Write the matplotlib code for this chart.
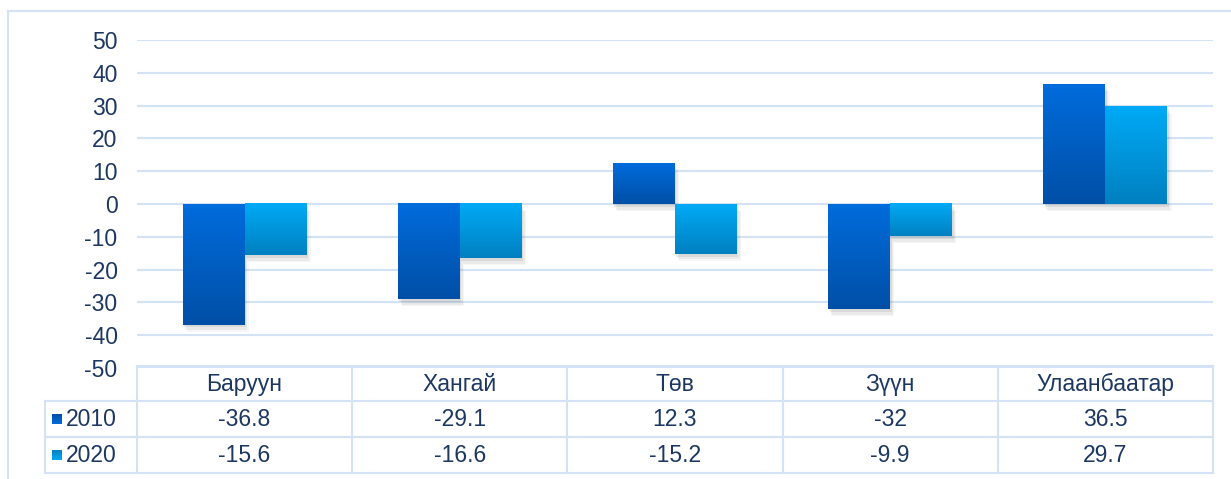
import numpy as np
import matplotlib
matplotlib.use("Agg")
import matplotlib.pyplot as plt
import matplotlib.patheffects as pe
from matplotlib.colors import LinearSegmentedColormap

regions = ["Баруун", "Хангай", "Төв", "Зүүн", "Улаанбаатар"]
years = ["2010", "2020"]
values_2010 = [-36.8, -29.1, 12.3, -32, 36.5]
values_2020 = [-15.6, -16.6, -15.2, -9.9, 29.7]
y_ticks = [-50, -40, -30, -20, -10, 0, 10, 20, 30, 40, 50]

plt.rcParams['font.family'] = ['Liberation Sans', 'DejaVu Sans']
plt.rcParams['axes.unicode_minus'] = False
text_color = "#1C3762"
grid_color = "#D3E2F4"
fs = 16.5

# gradient ends (bottom, top) for each series
grads = {
    "2010": ("#004FA6", "#006CDC"),
    "2020": ("#0080C0", "#00AAF6"),
}

W, H = 1231, 479
fig = plt.figure(figsize=(W / 100, H / 100), dpi=100)

# background axes in pixel coordinates: frame + data table
bg = fig.add_axes([0, 0, 1, 1])
bg.set_xlim(0, W)
bg.set_ylim(H, 0)
bg.axis("off")

plot_l, plot_r, plot_t, plot_b = 137, 1213, 40, 368
ax = fig.add_axes([plot_l / W, 1 - plot_b / H, (plot_r - plot_l) / W, (plot_b - plot_t) / H])
ax.patch.set_alpha(0)

n = len(regions)
x = np.arange(n)
bw = 0.288

shadow = [pe.SimplePatchShadow(offset=(1, -2), shadow_rgbFace="#606060", alpha=0.12),
          pe.SimplePatchShadow(offset=(2, -4), shadow_rgbFace="#606060", alpha=0.08),
          pe.SimplePatchShadow(offset=(3, -5), shadow_rgbFace="#606060", alpha=0.05),
          pe.Normal()]

for vals, yr, off in [(values_2010, "2010", -bw / 2), (values_2020, "2020", bw / 2)]:
    cmap = LinearSegmentedColormap.from_list(yr, grads[yr])
    grad = np.linspace(0, 1, 256).reshape(-1, 1)
    ax.bar(x + off, vals, width=bw, color=grads[yr][0], zorder=2, path_effects=shadow)
    for xi, v in zip(x, vals):
        ax.imshow(grad, cmap=cmap, origin="lower", aspect="auto", zorder=3,
                  extent=[xi + off - bw / 2, xi + off + bw / 2, min(0, v), max(0, v)])

ax.set_xlim(-0.5, n - 0.5)
ax.set_ylim(-50, 50)
ax.set_yticks(y_ticks)
ax.set_xticks([])
ax.grid(axis="y", color=grid_color, linewidth=1.5, zorder=1)
ax.set_axisbelow(True)
for s in ax.spines.values():
    s.set_visible(False)
ax.tick_params(axis="y", length=0, pad=14, labelsize=fs, labelcolor=text_color)

# outer frame
bg.plot([8, 8], [11, H], color=grid_color, lw=1.5)
bg.plot([8, W], [11, 11], color=grid_color, lw=1.5)

# data table
col_w = (plot_r - plot_l) / n
row_y = [366, 401, 437, 473]
key_l = 45
lw = 1.5
bg.plot([plot_l, plot_r], [row_y[0], row_y[0]], color=grid_color, lw=lw)
for yy in row_y[1:]:
    bg.plot([key_l, plot_r], [yy, yy], color=grid_color, lw=lw)
bg.plot([key_l, key_l], [row_y[1], row_y[3]], color=grid_color, lw=lw)
for i in range(n + 1):
    xx = plot_l + i * col_w
    bg.plot([xx, xx], [row_y[0], row_y[3]], color=grid_color, lw=lw)

for i, r in enumerate(regions):
    cx = plot_l + (i + 0.5) * col_w
    bg.text(cx, (row_y[0] + row_y[1]) / 2 + 1, r, ha="center", va="center",
            fontsize=fs, color=text_color)
    for j, vals in enumerate([values_2010, values_2020]):
        bg.text(cx, (row_y[j + 1] + row_y[j + 2]) / 2 + 1, f"{vals[i]:g}",
                ha="center", va="center", fontsize=fs, color=text_color)

for j, yr in enumerate(years):
    cy = (row_y[j + 1] + row_y[j + 2]) / 2
    cmap = LinearSegmentedColormap.from_list(yr, grads[yr])
    bg.imshow(np.linspace(0, 1, 64).reshape(-1, 1), cmap=cmap, origin="upper", aspect="auto",
              extent=[52, 62, cy + 5, cy - 5])
    bg.text(66, cy + 1, yr, ha="left", va="center", fontsize=fs, color=text_color)

bg.set_xlim(0, W)
bg.set_ylim(H, 0)

fig.savefig("out.png", dpi=100)
